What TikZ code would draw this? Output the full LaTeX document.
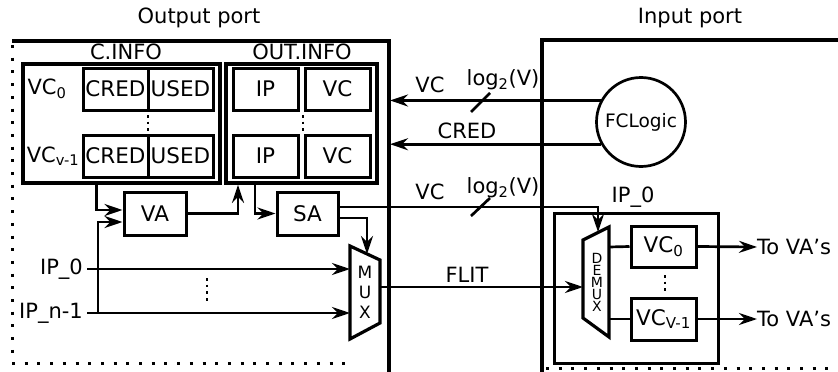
\documentclass[tikz,border=0pt]{standalone}
\usepackage{fontspec}
\setmainfont{DejaVu Sans}
\usetikzlibrary{arrows.meta,calc}
\begin{document}
\begin{tikzpicture}[x=1pt,y=-1pt,
  box/.style={draw, line width=3pt, inner sep=0pt, font=\fontsize{21.5}{25}\selectfont},
  bigbox/.style={draw, line width=3.8pt, inner sep=0pt},
  lbl/.style={inner sep=0pt, font=\fontsize{21}{25}\selectfont},
  arr/.style={line width=2.7pt, -{Stealth[length=18pt,width=12pt,inset=6pt]}},
  wire/.style={line width=2.7pt},
  frame/.style={line width=3.2pt},
  dotline/.style={line width=3pt, dash pattern=on 3pt off 9.7pt},
  vdots/.style={line width=2.7pt, dash pattern=on 2.7pt off 4pt}
]
\useasboundingbox (0,0) rectangle (838,372);

% titles
\node[lbl] (outlbl) at (199,18) {Output port};
\node[lbl] (inlbl) at (690,18) {Input port};

% frames
\draw[frame] (12,41) -- (389,41) -- (389,372);
\draw[dotline] (12,45) -- (12,358);
\draw[dotline] (12,363) -- (345,363);
\draw[frame] (542,372) -- (542,40) -- (838,40);
\draw[dotline] (546,368) -- (838,368);
\coordinate (outR) at (390,0);

% C.INFO
\node[bigbox, minimum width=197pt, minimum height=119pt] (cinfo) at (121.5,123.5) {};
\node[lbl] (cinfolbl) at (126,52) {C.INFO};
\node[box, minimum width=65pt, minimum height=42pt] (cred0) at (115.5,89) {CRED};
\node[box, minimum width=65pt, minimum height=42pt] (used0) at (180.5,89) {USED};
\node[box, minimum width=65pt, minimum height=42pt] (cred1) at (115.5,156) {CRED};
\node[box, minimum width=65pt, minimum height=42pt] (used1) at (180.5,156) {USED};
\node[lbl] (vczero) at (47,89) {VC\textsubscript{0}};
\node[lbl] (vcvm) at (53,156) {VC\textsubscript{v-1}};
\draw[vdots] (148,115) -- (148,133);

% OUT.INFO
\node[bigbox, minimum width=151pt, minimum height=119pt] (outinfo) at (301.5,123.5) {};
\node[lbl] (outinfolbl) at (302,52) {OUT.INFO};
\node[box, minimum width=65pt, minimum height=42pt] (ipa) at (265.5,89) {IP};
\node[box, minimum width=65pt, minimum height=42pt] (vca) at (337.5,89) {VC};
\node[box, minimum width=65pt, minimum height=42pt] (ipb) at (265.5,156) {IP};
\node[box, minimum width=65pt, minimum height=42pt] (vcb) at (337.5,156) {VC};
\draw[vdots] (303,115) -- (303,133);

% VA, SA
\node[box, minimum width=62pt, minimum height=43pt] (va) at (155,213.5) {VA};
\node[box, minimum width=61pt, minimum height=43pt] (sa) at (307.5,213.5) {SA};

% MUX
\draw[frame, line join=miter] (350,246) -- (380,260) -- (380,323) -- (350,339) -- cycle;
\node[inner sep=0pt, align=center, font=\fontsize{17}{20}\selectfont] (muxlbl) at (365,292) {M\\U\\X};
\coordinate (muxtop) at (367,254);
\coordinate (muxin0) at (350,269);
\coordinate (muxin1) at (350,313);
\coordinate (muxout) at (380,287);

% IP inputs
\node[lbl, anchor=east] (ip0) at (83,269) {IP\_0};
\node[lbl, anchor=east] (ipn) at (83,313) {IP\_n-1};
\coordinate (junc) at (98,313);
\draw[arr] (ip0.east) ++(4,0) -- (muxin0);
\draw[arr] (ipn.east) ++(4,0) -- (muxin1);
\draw[vdots] (207,278) -- (207,304);

% connections output port
\draw[arr] ([xshift=-25pt]cinfo.south) |- ([yshift=3.5pt]va.west);
\draw[arr] (junc) |- ([yshift=-8.5pt]va.west);
\draw[arr] (va.east) -| ([xshift=-63.5pt]outinfo.south);
\draw[arr] ([xshift=-46.5pt]outinfo.south) |- (sa.west);
\draw[arr] ([yshift=-4.5pt]sa.east) -| (muxtop);

% FCLogic
\node[draw, circle, line width=2.7pt, minimum size=89pt, inner sep=0pt, font=\fontsize{18.5}{20}\selectfont] (fc) at (641,122) {FCLogic};
\draw[arr] (fc.152) -- (fc.152 -| outR);
\draw[arr] (fc.209) -- (fc.209 -| outR);
\draw[wire] (471,112) -- (490,93);
\node[lbl] (vclbl1) at (430,85) {VC};
\node[lbl] (loglbl1) at (503,80) {log\textsubscript{2}(V)};
\node[lbl] (credlbl) at (467,131) {CRED};

% Input port IP_0 block
\node[box, minimum width=164pt, minimum height=150pt] (ipbox) at (636,288) {};
\node[lbl] (ipboxlbl) at (633,197) {IP\_0};
\draw[frame, line join=miter] (583,240) -- (609,227) -- (609,337) -- (583,318) -- cycle;
\node[inner sep=0pt, align=center, font=\fontsize{14}{12}\selectfont] (demuxlbl) at (597,282) {D\\E\\M\\U\\X};
\coordinate (demuxtop) at (598,232);
\coordinate (demuxin) at (583,287);
\coordinate (demuxo0) at (609,247);
\coordinate (demuxo1) at (609,319);
\node[box, minimum width=65pt, minimum height=41pt] (vcA) at (663.5,246.5) {VC\textsubscript{0}};
\node[box, minimum width=65pt, minimum height=42pt] (vcB) at (663.5,319) {VC\textsubscript{V-1}};
\draw[vdots] (665,275) -- (665,292);
\draw[wire] (demuxo0) -- (vcA.west);
\draw[wire] (demuxo1) -- (vcB.west);
\node[lbl, anchor=west] (toA) at (757,247) {To VA's};
\node[lbl, anchor=west] (toB) at (757,319) {To VA's};
\draw[arr] (vcA.east) -- (toA.west);
\draw[arr] (vcB.east) -- (toB.west);

% SA -> DEMUX, MUX -> DEMUX
\draw[arr] ([yshift=6.5pt]sa.east) -| (demuxtop);
\draw[wire] (471,216) -- (490,198);
\node[lbl] (vclbl2) at (430,192) {VC};
\node[lbl] (loglbl2) at (503,188) {log\textsubscript{2}(V)};
\draw[arr] (muxout) -- (demuxin);
\node[lbl] (flitlbl) at (467,275) {FLIT};
\end{tikzpicture}
\end{document}
